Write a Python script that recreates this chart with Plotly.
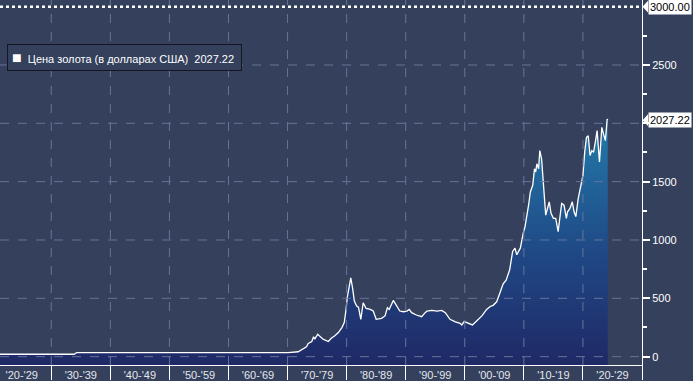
import plotly.graph_objects as go

# ---- data ----
years = [1921.3, 1925, 1930, 1933.9, 1934.3, 1940, 1950, 1960, 1967.0,
         1968.4, 1969.2, 1970.1, 1971.8, 1972.7, 1973.2, 1973.5, 1974.1, 1974.4, 1974.6,
         1975.1, 1975.5, 1976.0, 1976.9, 1977.4, 1978.0, 1978.6, 1979.2, 1979.6, 1979.9,
         1980.1, 1980.4, 1980.7, 1981.0, 1981.3, 1981.7, 1982.0, 1982.4, 1982.8, 1983.3,
         1984.0, 1984.5, 1985.0, 1985.9, 1986.5, 1986.9, 1987.2, 1987.9, 1988.5, 1989.0,
         1989.6, 1990.2, 1990.6, 1991.0, 1991.8, 1992.7, 1993.3, 1993.6, 1994.4, 1995.3,
         1996.1, 1996.7, 1997.5, 1998.4, 1999.2, 1999.5, 1999.9, 2000.6, 2001.3, 2002.0,
         2002.9, 2003.7, 2004.3, 2004.8, 2005.4, 2006.0, 2006.5, 2007.0, 2007.6, 2008.1,
         2008.5, 2008.8, 2009.4, 2009.9, 2010.2, 2010.8, 2011.1, 2011.5, 2011.8, 2012.0,
         2012.2, 2012.5, 2012.7, 2013.0, 2013.3, 2013.5, 2013.7, 2014.0, 2014.3, 2014.6,
         2015.0, 2015.4, 2015.8, 2016.4, 2016.8, 2017.2, 2017.4, 2017.8, 2018.2, 2018.5,
         2018.8, 2019.2, 2019.8, 2020.0, 2020.3, 2020.6, 2020.9, 2021.2, 2021.5, 2021.8,
         2022.1, 2022.4, 2022.8, 2023.2, 2023.5, 2023.8, 2024.1, 2024.2]
price = [20.67, 20.67, 20.67, 20.67, 35, 35, 35, 35, 35,
         39, 41, 35, 42, 70, 85, 113, 130, 170, 150,
         192, 175, 150, 130, 158, 179, 207, 249, 292, 405,
         505, 590, 675, 590, 476, 434, 425, 320, 462, 413,
         405, 391, 320, 328, 349, 419, 405, 482, 434, 391,
         385, 391, 405, 377, 357, 343, 377, 391, 397, 391,
         397, 377, 320, 298, 286, 272, 300, 283, 272, 306,
         349, 405, 430, 440, 470, 555, 624, 655, 745, 902,
         930, 873, 930, 1058, 1115, 1298, 1412, 1469, 1611, 1583,
         1653, 1611, 1766, 1696, 1497, 1298, 1213, 1270, 1327, 1228,
         1185, 1185, 1072, 1313, 1298, 1185, 1242, 1270, 1327, 1242,
         1200, 1355, 1511, 1554, 1753, 1880, 1894, 1724, 1766, 1753,
         1838, 1937, 1668, 1965, 1908, 1851, 2036, 2027.22]

last_value = 2027.22
top_value = 3000
series_name = "Цена золота (в долларах США)"

decade_mid = [1925, 1935, 1945, 1955, 1965, 1975, 1985, 1995, 2005, 2015, 2025]
decade_labels = ["'20-'29", "'30-'39", "'40-'49", "'50-'59", "'60-'69", "'70-'79",
                 "'80-'89", "'90-'99", "'00-'09", "'10-'19", "'20-'29"]
decade_bounds = [1930, 1940, 1950, 1960, 1970, 1980, 1990, 2000, 2010, 2020, 2030]

y_ticks = [0, 500, 1000, 1500, 2000, 2500]
y_tick_labels = ["0", "500", "1000", "1500", "", "2500"]  # 2000 hidden behind value box
y_minor = [250, 750, 1250, 1750, 2250, 2750]

# ---- styling ----
BG = "#34405c"
GRID = "#66749a"
FONT = "Liberation Sans, Arial, sans-serif"
X_RANGE = [1921.32, 2030]
Y_RANGE = [-71.5, 3057]
W, H = 693, 381
ML, MR, MT, MB = 0, 51, 0, 13
PW, PH = W - ML - MR, H - MT - MB

fig = go.Figure()

# baseline for the fill (bottom of the plotting area)
fig.add_trace(go.Scatter(x=[years[0], years[-1]], y=[Y_RANGE[0], Y_RANGE[0]],
                         mode="lines", line=dict(width=0), showlegend=False,
                         hoverinfo="skip"))
fig.add_trace(go.Scatter(
    x=years, y=price, mode="lines", name=series_name,
    line=dict(color="white", width=1.3),
    fill="tonexty",
    fillgradient=dict(type="vertical",
                      colorscale=[[0, "#1f2966"], [0.45, "#1f4885"], [1, "#237cab"]]),
    showlegend=False))

shapes = []
for v in y_ticks:
    shapes.append(dict(type="line", xref="paper", yref="y", x0=0, x1=1, y0=v, y1=v,
                       line=dict(color=GRID, width=1, dash="dash"), layer="above"))
for b in decade_bounds[:-1]:
    shapes.append(dict(type="line", xref="x", yref="paper", x0=b, x1=b, y0=0, y1=1,
                       line=dict(color=GRID, width=1, dash="dash"), layer="above"))
shapes.append(dict(type="line", xref="paper", yref="y", x0=0, x1=1, y0=top_value, y1=top_value,
                   line=dict(color="white", width=2.5, dash="dot"), layer="above"))

# pointer triangles for the value boxes
def ypaper(v):
    return (v - Y_RANGE[0]) / (Y_RANGE[1] - Y_RANGE[0])

for v in [top_value, last_value]:
    yp = ypaper(v)
    dx = 6 / PW
    dy = 6 / PH
    shapes.append(dict(type="path", xref="paper", yref="paper",
                       path=f"M {1 + 0.5 / PW},{yp} L {1 + dx},{yp + dy} L {1 + dx},{yp - dy} Z",
                       fillcolor="white", line=dict(width=0)))

annotations = [
    dict(xref="paper", yref="y", x=1, y=top_value, xanchor="left", yanchor="middle",
         xshift=6, text=f"{top_value:.2f}", showarrow=False, bgcolor="white",
         font=dict(color="black", size=11, family=FONT), borderpad=1),
    dict(xref="paper", yref="y", x=1, y=last_value, xanchor="left", yanchor="middle",
         xshift=6, text=f"{last_value:.2f}", showarrow=False, bgcolor="white",
         font=dict(color="black", size=11, family=FONT), borderpad=1),
    dict(xref="paper", yref="paper", x=7 / PW, y=1 - 44 / PH, xanchor="left", yanchor="top",
         text=f'<span style="font-size:16px">■</span>\u00a0 {series_name}\u00a0\u00a0{last_value:.2f}\u00a0',
         showarrow=False, bgcolor=BG, bordercolor="#14171f", borderwidth=1, borderpad=4,
         font=dict(color="white", size=11, family=FONT)),
]

fig.update_layout(
    width=W, height=H, margin=dict(l=ML, r=MR, t=MT, b=MB),
    paper_bgcolor=BG, plot_bgcolor=BG,
    font=dict(family=FONT, color="white", size=11),
    shapes=shapes, annotations=annotations, showlegend=False,
    xaxis=dict(range=X_RANGE, tickmode="array", tickvals=decade_mid, ticktext=decade_labels,
               ticks="", showgrid=False, zeroline=False, showline=True, linecolor="white",
               linewidth=1, tickfont=dict(color="#e4e7ee", size=11, family=FONT),
               minor=dict(tickmode="array", tickvals=decade_bounds, ticks="outside",
                          ticklen=14, tickcolor="white", tickwidth=1, showgrid=False)),
    yaxis=dict(range=Y_RANGE, side="right", tickmode="array", tickvals=y_ticks,
               ticktext=y_tick_labels,
               ticks="outside", ticklen=7, tickwidth=2, tickcolor="white",
               showgrid=False, zeroline=False, showline=True, linecolor="white", linewidth=1,
               tickfont=dict(color="white", size=11, family=FONT),
               minor=dict(tickmode="array", tickvals=y_minor, ticks="outside", ticklen=4,
                          tickcolor="white", tickwidth=1.5, showgrid=False)),
)

fig.write_html("out.html")
